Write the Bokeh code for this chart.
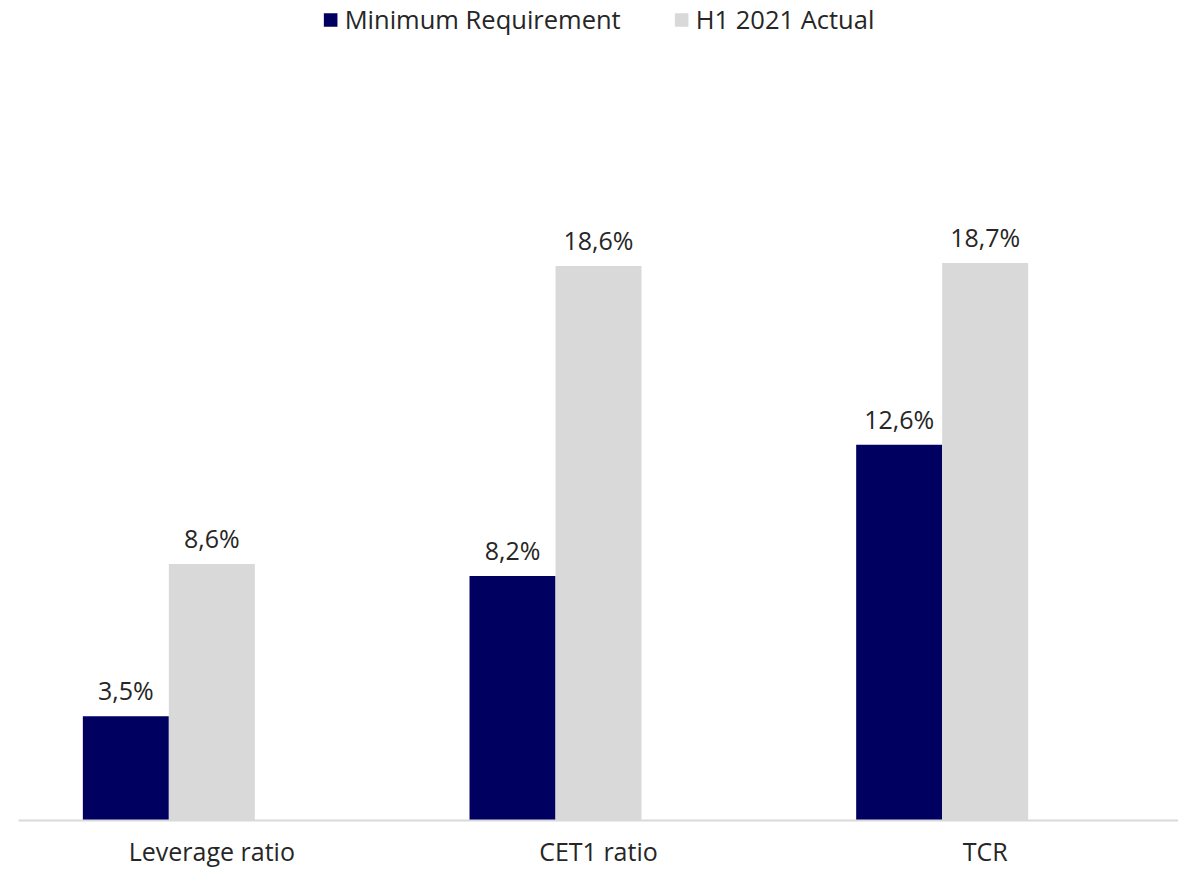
from bokeh.plotting import figure
from bokeh.models import ColumnDataSource, Legend, LegendItem, FixedTicker
from bokeh.core.properties import value
from bokeh.embed import file_html
from bokeh.resources import INLINE

categories = ["Leverage ratio", "CET1 ratio", "TCR"]
min_req = [3.5, 8.2, 12.6]
h1_actual = [8.6, 18.6, 18.7]
series_names = ["Minimum Requirement", "H1 2021 Actual"]

NAVY = "#000060"
GREY = "#D9D9D9"
TXT = "#262626"
FONT = "Open Sans"

def fmt(v):
    return ("%.1f%%" % v).replace(".", ",")

centers = [i + 0.5 for i in range(len(categories))]
bw = 0.2224
src1 = ColumnDataSource(dict(x=[c - bw for c in centers], top=min_req, lab=[fmt(v) for v in min_req]))
src2 = ColumnDataSource(dict(x=list(centers), top=h1_actual, lab=[fmt(v) for v in h1_actual]))

p = figure(width=1178, height=870, output_backend="svg", toolbar_location=None,
           x_range=(0, 3), y_range=(0, 27.5), y_axis_location=None,
           min_border_left=18, min_border_right=0, min_border_top=0, min_border_bottom=50)
p.outline_line_color = None
p.xgrid.visible = False
p.ygrid.visible = False

r1 = p.vbar(x="x", top="top", width=bw, source=src1, fill_color=NAVY, line_color=None)
r2 = p.vbar(x="x", top="top", width=bw, source=src2, fill_color=GREY, line_color=None)

for s in (src1, src2):
    p.text(x="x", y="top", text="lab", source=s, text_align="center", text_baseline="alphabetic",
           y_offset=-26, text_font_size="25px", text_color=TXT, text_font=value(FONT))

ax = p.xaxis[0]
ax.ticker = FixedTicker(ticks=centers)
ax.major_label_overrides = {c: name for c, name in zip(centers, categories)}
ax.major_tick_line_color = None
ax.minor_tick_line_color = None
ax.axis_line_color = GREY
ax.axis_line_width = 2
ax.major_label_text_font = FONT
ax.major_label_text_font_size = "25px"
ax.major_label_text_color = TXT
ax.major_label_standoff = 7

legend = Legend(items=[LegendItem(label=series_names[0], renderers=[r1]),
                       LegendItem(label=series_names[1], renderers=[r2])],
                location="top_center", orientation="horizontal")
legend.border_line_color = None
legend.background_fill_alpha = 0
legend.margin = 2
legend.padding = 0
legend.glyph_width = 17
legend.glyph_height = 17
legend.label_standoff = 6
legend.spacing = 52
legend.label_text_font = FONT
legend.label_text_font_size = "25.5px"
legend.label_text_color = TXT
p.add_layout(legend)

open("out.html", "w").write(file_html(p, INLINE))
